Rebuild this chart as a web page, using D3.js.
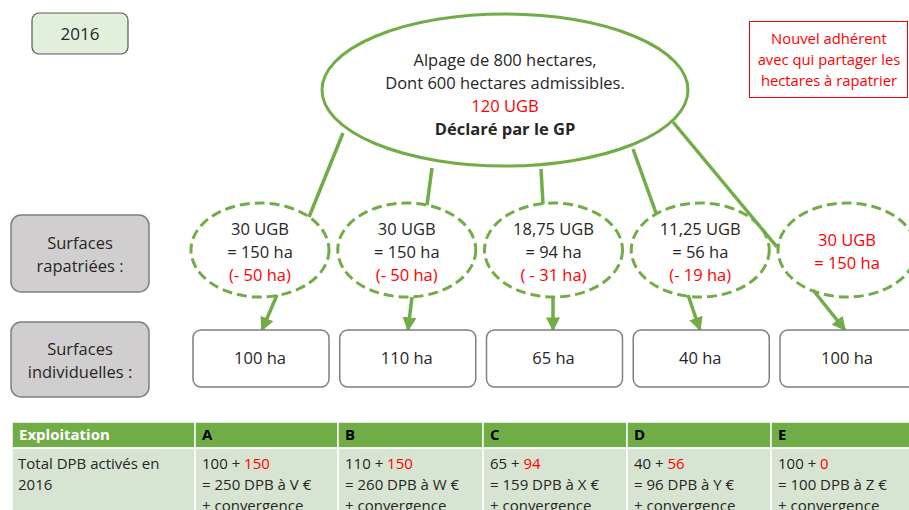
<!DOCTYPE html>
<html>
<head>
<meta charset="utf-8">
<script src="https://cdn.jsdelivr.net/npm/d3@7"></script>
<style>
  body { margin: 0; background: #fff; }
  svg { font-family: "Open Sans", "Noto Sans", sans-serif; }
</style>
</head>
<body>
<div id="stage"></div>
<script>
var exploitations = ["A", "B", "C", "D", "E"];
var ugb = ["30 UGB", "30 UGB", "18,75 UGB", "11,25 UGB", "30 UGB"];
var haRapatries = [150, 150, 94, 56, 150];
var perte = ["(- 50 ha)", "(- 50 ha)", "( - 31 ha)", "(- 19 ha)", ""];
var haIndividuels = [100, 110, 65, 40, 100];
var dpbTotal = [250, 260, 159, 96, 100];
var dpbAjout = [150, 150, 94, 56, 0];
var valeurs = ["V", "W", "X", "Y", "Z"];
var nouveau = [false, false, false, false, true];

var alpageLignes = ["Alpage de 800 hectares,", "Dont 600 hectares admissibles.", "120 UGB", "Déclaré par le GP"];
var noteLignes = ["Nouvel adhérent", "avec qui partager les", "hectares à rapatrier"];

var vert = "#70ad47", rouge = "#ff0000", texte = "#262626";
var W = 909, H = 510;

var svg = d3.select("#stage").append("svg")
  .attr("width", W).attr("height", H);

svg.append("defs").append("marker")
  .attr("id", "fleche")
  .attr("viewBox", "0 0 10 10")
  .attr("refX", 9).attr("refY", 5)
  .attr("markerWidth", 4).attr("markerHeight", 4)
  .attr("orient", "auto")
  .append("path").attr("d", "M0,0 L10,5 L0,10 z").attr("fill", vert);

// colonnes
var x = d3.scalePoint().domain(exploitations).range([260, 847]);

// --- année
svg.append("rect").attr("x", 32).attr("y", 13).attr("width", 96).attr("height", 41)
  .attr("rx", 7).attr("fill", "#e2efda").attr("stroke", "#595959").attr("stroke-width", 1.2);
svg.append("text").attr("x", 80).attr("y", 40).attr("text-anchor", "middle")
  .attr("font-size", 17).attr("fill", texte).text("2016");

// --- note rouge
svg.append("rect").attr("x", 749.5).attr("y", 21.5).attr("width", 158).attr("height", 76)
  .attr("fill", "#fff").attr("stroke", rouge).attr("stroke-width", 1);
svg.selectAll(".note").data(noteLignes).enter().append("text")
  .attr("x", 829).attr("y", function(d, i){ return 44 + i * 21; })
  .attr("text-anchor", "middle").attr("font-size", 14.8).attr("fill", rouge)
  .text(function(d){ return d; });

// --- liens alpage -> ellipses (haut)
var liensHaut = [
  [343, 133, 309, 217], [432, 168, 427, 205], [541, 169, 543, 204],
  [633, 149, 656, 213], [673, 122, 777, 247]
];
svg.selectAll(".lienHaut").data(liensHaut).enter().append("line")
  .attr("x1", function(d){ return d[0]; }).attr("y1", function(d){ return d[1]; })
  .attr("x2", function(d){ return d[2]; }).attr("y2", function(d){ return d[3]; })
  .attr("stroke", vert).attr("stroke-width", 3.5);

// --- ellipse alpage
svg.append("ellipse").attr("cx", 505).attr("cy", 90).attr("rx", 183).attr("ry", 76)
  .attr("fill", "#fff").attr("stroke", vert).attr("stroke-width", 3);
svg.selectAll(".alpage").data(alpageLignes).enter().append("text")
  .attr("x", 505).attr("y", function(d, i){ return 66 + i * 23; })
  .attr("text-anchor", "middle").attr("font-size", 16.5)
  .attr("font-weight", function(d, i){ return i == 3 ? "bold" : "normal"; })
  .attr("fill", function(d, i){ return i == 2 ? rouge : texte; })
  .text(function(d){ return d; });

// --- étiquettes grises
var etiquettes = [
  {y: 215, h: 77, l: ["Surfaces", "rapatriées :"]},
  {y: 322, h: 75, l: ["Surfaces", "individuelles :"]}
];
etiquettes.forEach(function(e){
  svg.append("rect").attr("x", 11).attr("y", e.y).attr("width", 138).attr("height", e.h)
    .attr("rx", 10).attr("fill", "#d0cece").attr("stroke", "#7f7f7f").attr("stroke-width", 1.5);
  e.l.forEach(function(t, i){
    svg.append("text").attr("x", 80).attr("y", e.y + e.h / 2 - 5 + i * 23)
      .attr("text-anchor", "middle").attr("font-size", 16.5).attr("fill", texte).text(t);
  });
});

// --- flèches ellipses -> boîtes
var flechesBas = [
  [277, 295, 262, 330], [412, 297, 408, 330], [553, 298, 553, 330],
  [688, 295, 700, 330], [813, 290, 845, 330]
];
svg.selectAll(".fleche").data(flechesBas).enter().append("line")
  .attr("x1", function(d){ return d[0]; }).attr("y1", function(d){ return d[1]; })
  .attr("x2", function(d){ return d[2]; }).attr("y2", function(d){ return d[3]; })
  .attr("stroke", vert).attr("stroke-width", 3.5)
  .attr("marker-end", "url(#fleche)");

// --- ellipses pointillées
var g = svg.selectAll(".parc").data(exploitations).enter().append("g")
  .attr("transform", function(d){ return "translate(" + x(d) + ",0)"; });

g.append("ellipse").attr("cx", 0).attr("cy", 250).attr("rx", 69).attr("ry", 47)
  .attr("fill", "none").attr("stroke", vert).attr("stroke-width", 3)
  .attr("stroke-dasharray", "10,5");

g.append("text").attr("text-anchor", "middle").attr("font-size", 16.5)
  .attr("y", function(d, i){ return nouveau[i] ? 246 : 235; })
  .attr("fill", function(d, i){ return nouveau[i] ? rouge : texte; })
  .text(function(d, i){ return ugb[i]; });
g.append("text").attr("text-anchor", "middle").attr("font-size", 16.5)
  .attr("y", function(d, i){ return nouveau[i] ? 269 : 258; })
  .attr("fill", function(d, i){ return nouveau[i] ? rouge : texte; })
  .text(function(d, i){ return "= " + haRapatries[i] + " ha"; });
g.append("text").attr("text-anchor", "middle").attr("font-size", 16.5)
  .attr("y", 281).attr("fill", rouge)
  .text(function(d, i){ return perte[i]; });

// --- boîtes surfaces individuelles
g.append("rect").attr("x", -67).attr("y", 330).attr("width", 136).attr("height", 57)
  .attr("rx", 8).attr("fill", "#fff").attr("stroke", "#7f7f7f").attr("stroke-width", 1.5);
g.append("text").attr("text-anchor", "middle").attr("y", 364).attr("font-size", 16.5)
  .attr("fill", texte).text(function(d, i){ return haIndividuels[i] + " ha"; });

// --- tableau
var colX = [12, 195, 338, 483, 627, 771, 920];
var enTete = ["Exploitation"].concat(exploitations);
var tY = 422, hdrH = 26;

enTete.forEach(function(t, i){
  svg.append("rect").attr("x", colX[i]).attr("y", tY).attr("width", colX[i + 1] - colX[i])
    .attr("height", hdrH).attr("fill", vert).attr("stroke", "#fff").attr("stroke-width", 1.5);
  svg.append("rect").attr("x", colX[i]).attr("y", tY + hdrH).attr("width", colX[i + 1] - colX[i])
    .attr("height", 80).attr("fill", "#d8e4d2").attr("stroke", "#fff").attr("stroke-width", 1.5);
  svg.append("text").attr("x", colX[i] + 7).attr("y", tY + 18).attr("font-size", 15)
    .attr("font-weight", "bold").attr("fill", i == 0 ? "#fff" : "#000").text(t);
});

var corpsX = 12 + 6;
svg.append("text").attr("x", corpsX).attr("y", 469).attr("font-size", 15).attr("fill", texte)
  .text("Total DPB activés en");
svg.append("text").attr("x", corpsX).attr("y", 490).attr("font-size", 15).attr("fill", texte)
  .text("2016");

exploitations.forEach(function(e, i){
  var cx = colX[i + 1] + 7;
  var t1 = svg.append("text").attr("x", cx).attr("y", 469).attr("font-size", 15).attr("fill", texte);
  t1.append("tspan").text(haIndividuels[i] + " + ");
  t1.append("tspan").attr("fill", rouge).text(dpbAjout[i]);
  svg.append("text").attr("x", cx).attr("y", 490).attr("font-size", 15).attr("fill", texte)
    .text("= " + dpbTotal[i] + " DPB à " + valeurs[i] + " €");
  svg.append("text").attr("x", cx).attr("y", 511).attr("font-size", 15).attr("fill", texte)
    .text("+ convergence");
});
</script>
</body>
</html>
